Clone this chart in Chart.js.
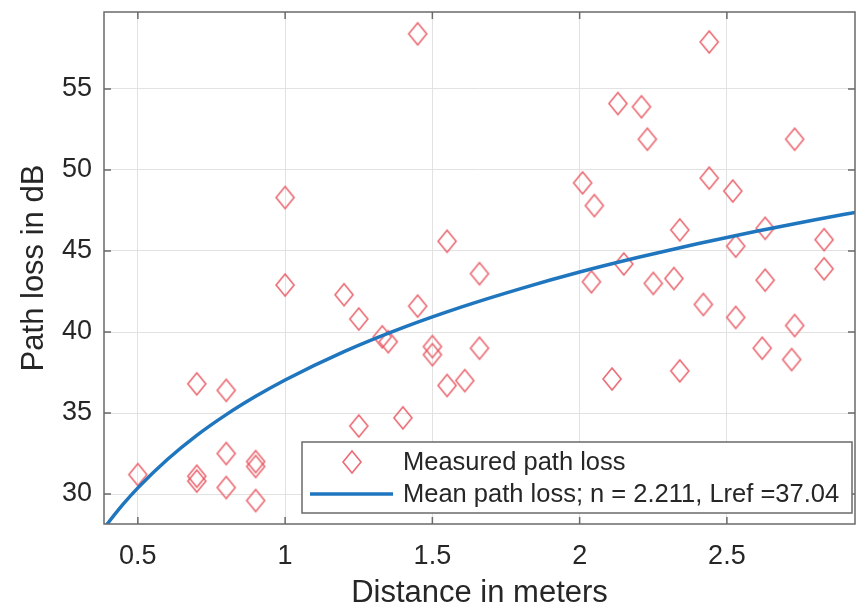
<!DOCTYPE html>
<html>
<head>
<meta charset="utf-8">
<script src="https://cdn.jsdelivr.net/npm/chart.js@4.4.1/dist/chart.umd.min.js"></script>
<style>
  html, body { margin: 0; padding: 0; background: #ffffff; }
  #wrap { width: 859px; height: 609px; }
</style>
</head>
<body>
<div id="wrap"><canvas id="pathLossChart" width="859" height="609"></canvas></div>
<script>
// ------------------------------------------------ DATA ------------------------------------------------
const distance = [0.5, 0.7, 0.7, 0.7, 0.8, 0.8, 0.8, 0.9, 0.9, 0.9, 1.0, 1.0, 1.2, 1.25, 1.25, 1.33, 1.35, 1.40,
                  1.45, 1.45, 1.5, 1.5, 1.55, 1.55, 1.61, 1.66, 1.66, 2.01, 2.05, 2.04, 2.11, 2.13, 2.15, 2.21,
                  2.23, 2.25, 2.32, 2.34, 2.34, 2.44, 2.44, 2.42, 2.52, 2.53, 2.53, 2.63, 2.63, 2.62, 2.73, 2.73,
                  2.72, 2.83, 2.83];
const pathLoss = [31.2, 36.8, 31.1, 30.8, 36.4, 32.5, 30.4, 32.0, 31.7, 29.6, 48.3, 42.9, 42.3, 40.8, 34.2, 39.7, 39.4, 34.7,
                  58.4, 41.6, 39.1, 38.6, 45.6, 36.7, 37.0, 43.6, 39.0, 49.2, 47.8, 43.1, 37.1, 54.1, 44.2, 53.9,
                  51.9, 43.0, 43.3, 46.3, 37.6, 57.9, 49.5, 41.7, 48.7, 45.3, 40.9, 46.4, 43.2, 39.0, 51.9, 40.4,
                  38.3, 45.7, 43.9];

// mean path loss curve
const meanX = [0.38, 0.40, 0.45, 0.5, 0.6, 0.7, 0.8, 0.9, 1.0, 1.2, 1.4, 1.6, 1.8, 2.0, 2.2, 2.4, 2.6, 2.8, 2.95];
const meanY = [27.75, 28.24, 29.37, 30.38, 32.13, 33.62, 34.90, 36.03, 37.04, 38.79, 40.27, 41.55, 42.68, 43.70,
               44.61, 45.45, 46.22, 46.93, 47.43];

const xTicks = [0.5, 1, 1.5, 2, 2.5];
const yTicks = [30, 35, 40, 45, 50, 55];

const seriesLabels = ['Measured path loss', 'Mean path loss; n = 2.211, Lref =37.04'];

// ------------------------------------------------ STYLE ------------------------------------------------
const FONT = "'Liberation Sans', Arial, Helvetica, sans-serif";
const TEXT = '#262626';
const MARKER = 'rgba(232, 80, 90, 0.85)';
const LINE = '#1f76be';

// diamond marker (matlab 'd' is a bit taller than wide)
function makeDiamond() {
    const c = document.createElement('canvas');
    c.width = 22; c.height = 26;
    const g = c.getContext('2d');
    g.strokeStyle = MARKER;
    g.lineWidth = 1.6;
    g.beginPath();
    g.moveTo(11, 2); g.lineTo(20, 13); g.lineTo(11, 24); g.lineTo(2, 13);
    g.closePath();
    g.stroke();
    return c;
}
const diamond = makeDiamond();

// no extra room for overhanging tick labels, the axes box is placed by hand
function tightFit(axis, size) {
    if (axis.isHorizontal()) axis.height = size; else axis.width = size;
    axis.paddingTop = 0; axis.paddingBottom = 0;
    axis.paddingLeft = 0; axis.paddingRight = 0;
}

// ------------------------------------------------ BOX, INWARD TICKS, LEGEND ------------------------------------------------
const matlabAxes = {
    id: 'matlabAxes',
    afterDatasetsDraw(chart) {
        const {ctx, chartArea: a, scales} = chart;
        ctx.save();
        ctx.strokeStyle = '#6a6a6a';
        ctx.lineWidth = 1.5;
        ctx.beginPath();
        xTicks.forEach(v => {
            const px = scales.x.getPixelForValue(v);
            ctx.moveTo(px, a.bottom); ctx.lineTo(px, a.bottom - 7);
            ctx.moveTo(px, a.top); ctx.lineTo(px, a.top + 7);
        });
        yTicks.forEach(v => {
            const py = scales.y.getPixelForValue(v);
            ctx.moveTo(a.left, py); ctx.lineTo(a.left + 7, py);
            ctx.moveTo(a.right, py); ctx.lineTo(a.right - 7, py);
        });
        ctx.stroke();
        ctx.strokeRect(a.left, a.top, a.right - a.left, a.bottom - a.top);
        ctx.restore();
    },
    afterDraw(chart) {
        const ctx = chart.ctx;
        const bx = 302, by = 442, bw = 550, bh = 71;
        ctx.save();
        ctx.fillStyle = '#ffffff';
        ctx.fillRect(bx, by, bw, bh);
        ctx.strokeStyle = '#6a6a6a';
        ctx.lineWidth = 1.5;
        ctx.strokeRect(bx, by, bw, bh);

        ctx.drawImage(diamond, 352 - 11, 462 - 13);

        ctx.strokeStyle = LINE;
        ctx.lineWidth = 3.5;
        ctx.beginPath();
        ctx.moveTo(310, 494); ctx.lineTo(393, 494);
        ctx.stroke();

        ctx.fillStyle = TEXT;
        ctx.font = '25.5px ' + FONT;
        ctx.textBaseline = 'middle';
        ctx.textAlign = 'left';
        ctx.fillText(chart.data.datasets[0].label, 403, 463);
        ctx.fillText(chart.data.datasets[1].label, 403, 495);
        ctx.restore();
    }
};

// ------------------------------------------------ CHART ------------------------------------------------
const ctx = document.getElementById('pathLossChart').getContext('2d');
const pathLossChart = new Chart(ctx, {
    type: 'scatter',
    data: {
        datasets: [{
            label: seriesLabels[0],
            data: distance.map((d, i) => ({x: d, y: pathLoss[i]})),
            pointStyle: diamond,
            pointRadius: 10,
            order: 1
        }, {
            label: seriesLabels[1],
            data: meanX.map((d, i) => ({x: d, y: meanY[i]})),
            showLine: true,
            borderColor: LINE,
            borderWidth: 3.5,
            pointRadius: 0,
            cubicInterpolationMode: 'monotone',
            order: 0
        }]
    },
    options: {
        responsive: false,
        animation: false,
        layout: {
            autoPadding: false,
            padding: {left: 0, top: 12, right: 4, bottom: 0}
        },
        scales: {
            x: {
                type: 'linear',
                min: 0.385,
                max: 2.935,
                afterBuildTicks: axis => { axis.ticks = xTicks.map(v => ({value: v})); },
                afterFit: axis => tightFit(axis, 85),
                ticks: {
                    color: TEXT,
                    padding: 16,
                    font: {family: FONT, size: 27},
                    callback: v => String(v)
                },
                grid: {color: '#e2e2e2', lineWidth: 1, drawTicks: false},
                border: {display: false},
                title: {
                    display: true,
                    text: 'Distance in meters',
                    color: TEXT,
                    font: {family: FONT, size: 31, lineHeight: 1},
                    padding: {top: 0, bottom: 0}
                }
            },
            y: {
                type: 'linear',
                min: 28.15,
                max: 59.75,
                afterBuildTicks: axis => { axis.ticks = yTicks.map(v => ({value: v})); },
                afterFit: axis => tightFit(axis, 104),
                ticks: {
                    color: TEXT,
                    padding: 12,
                    font: {family: FONT, size: 27}
                },
                grid: {color: '#e2e2e2', lineWidth: 1, drawTicks: false},
                border: {display: false},
                title: {
                    display: true,
                    text: 'Path loss in dB',
                    color: TEXT,
                    font: {family: FONT, size: 31, lineHeight: 1},
                    padding: {top: 19, bottom: 0}
                }
            }
        },
        plugins: {
            legend: {display: false},
            tooltip: {enabled: false}
        }
    },
    plugins: [matlabAxes]
});
</script>
</body>
</html>
